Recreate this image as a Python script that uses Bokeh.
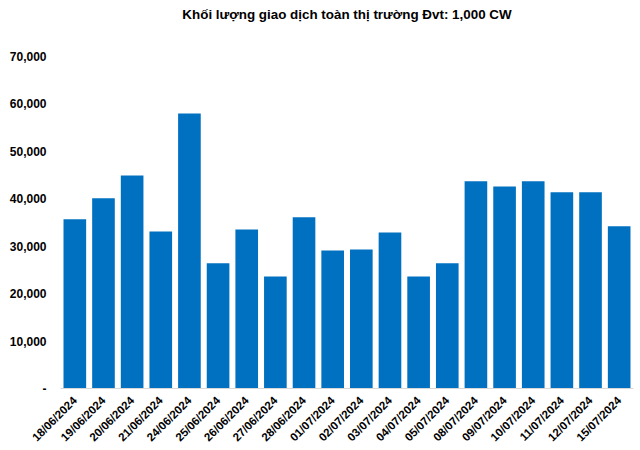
import math
from bokeh.plotting import figure
from bokeh.models import FactorRange, Range1d, FixedTicker, CustomJSTickFormatter, ColumnDataSource, Title
from bokeh.embed import file_html
from bokeh.resources import INLINE

dates = ["18/06/2024", "19/06/2024", "20/06/2024", "21/06/2024", "24/06/2024",
         "25/06/2024", "26/06/2024", "27/06/2024", "28/06/2024", "01/07/2024",
         "02/07/2024", "03/07/2024", "04/07/2024", "05/07/2024", "08/07/2024",
         "09/07/2024", "10/07/2024", "11/07/2024", "12/07/2024", "15/07/2024"]
volumes = [35700, 40100, 44900, 33100, 58000,
           26400, 33500, 23600, 36100, 29100,
           29300, 32900, 23600, 26400, 43700,
           42600, 43700, 41400, 41400, 34200]
y_ticks = [0, 10000, 20000, 30000, 40000, 50000, 60000, 70000]
title_text = "Khối lượng giao dịch toàn thị trường Đvt: 1,000 CW"

src = ColumnDataSource(dict(x=dates, y=volumes))

p = figure(width=640, height=450, x_range=FactorRange(*dates, range_padding=0.0),
           y_range=Range1d(0, 70000), output_backend="svg", toolbar_location=None,
           min_border_left=60, min_border_right=7, min_border_top=56, min_border_bottom=62)
p.title.text = ""
p.title.standoff = 0
p.outline_line_color = None

# spacer between frame and title (nearest the frame)
spacer = Title(text=" ", text_font_size="1px", standoff=30, text_color="#ffffff")
p.add_layout(spacer, "above")
main_title = Title(text=title_text, align="center", vertical_align="top",
                   text_font="Liberation Sans", text_font_size="13.4px",
                   text_font_style="bold", text_color="#000000", standoff=0)
p.add_layout(main_title, "above")

p.vbar(x="x", top="y", width=0.79, source=src, fill_color="#0070C0", line_color=None)

p.xgrid.visible = False
p.ygrid.visible = False

p.yaxis.ticker = FixedTicker(ticks=y_ticks)
p.yaxis.formatter = CustomJSTickFormatter(code="""
if (tick == 0) { return '-'; }
return tick.toLocaleString('en-US');
""")
p.yaxis.axis_line_color = None
p.yaxis.major_tick_line_color = None
p.yaxis.minor_tick_line_color = None
p.yaxis.major_label_text_font = "Liberation Sans"
p.yaxis.major_label_text_font_size = "12px"
p.yaxis.major_label_text_font_style = "bold"
p.yaxis.major_label_text_color = "#000000"
p.yaxis.major_label_standoff = 8

p.xaxis.axis_line_color = "#D9D9D9"
p.xaxis.major_tick_line_color = None
p.xaxis.minor_tick_line_color = None
p.xaxis.major_label_orientation = math.pi / 4
p.xaxis.major_label_text_font = "Liberation Sans"
p.xaxis.major_label_text_font_size = "11.5px"
p.xaxis.major_label_text_font_style = "bold"
p.xaxis.major_label_text_color = "#000000"
p.xaxis.major_label_standoff = 4

open("out.html", "w").write(file_html(p, INLINE))
